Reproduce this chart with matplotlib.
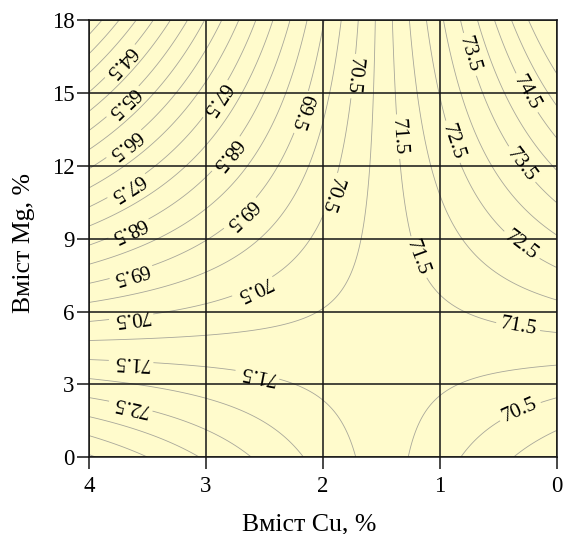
import numpy as np
import matplotlib
matplotlib.use("Agg")
import matplotlib.pyplot as plt

# Response surface: Z = b0 + b1*Cu + b2*Mg + b12*Cu*Mg + b11*Cu^2 + b22*Mg^2
coef_names = ["b0", "b1", "b2", "b12", "b11", "b22"]
coef_values = [69.5915, 1.1039, 0.3708, -0.2525, 0.0037, 0.0002]

cu_ticks = [4, 3, 2, 1, 0]
mg_ticks = [0, 3, 6, 9, 12, 15, 18]
plain_levels = np.arange(62.0, 76.0, 1.0)
label_levels = np.arange(62.5, 76.0, 1.0)

xlabel = "Вміст Cu, %"
ylabel = "Вміст Mg, %"

# label placement (layout)
label_positions = [
    (3.73, 16.3), (3.70, 14.6), (3.70, 12.9), (3.67, 11.1), (3.67, 9.5),
    (3.64, 7.6), (3.64, 5.8), (3.64, 3.9), (3.64, 2.15),
    (0.26, 15.0), (0.30, 12.06), (0.29, 8.8), (0.33, 5.4), (0.31, 1.86),
    (2.91, 14.74), (2.82, 12.47), (2.17, 14.2), (2.71, 10.07), (2.6, 7.0),
    (1.74, 15.7), (1.91, 10.8), (1.37, 13.2), (0.91, 12.96), (0.74, 16.6),
    (1.17, 8.26), (2.56, 3.39),
]

plt.rcParams["font.family"] = ["Liberation Serif", "DejaVu Serif"]

b0, b1, b2, b12, b11, b22 = coef_values


def model(cu, mg):
    return b0 + b1 * cu + b2 * mg + b12 * cu * mg + b11 * cu ** 2 + b22 * mg ** 2


def grad(cu, mg):
    return b1 + b12 * mg + 2 * b11 * cu, b2 + b12 * cu + 2 * b22 * mg


fig = plt.figure(figsize=(5.63, 5.34), dpi=100)
ax = fig.add_axes([0.158, 0.144, 0.831, 0.818])
ax.set_facecolor("#FFFBCC")

X, Y = np.meshgrid(np.linspace(0, 4, 300), np.linspace(0, 18, 300))
Z = model(X, Y)
line_style = dict(colors="#a8a79a", linewidths=0.6)
ax.contour(X, Y, Z, levels=plain_levels, **line_style)
cs = ax.contour(X, Y, Z, levels=label_levels, **line_style)

ax.set_xlim(4, 0)
ax.set_ylim(0, 18)

texts = ax.clabel(cs, fmt="%.1f", fontsize=15, colors="black",
                  manual=label_positions, inline=True, inline_spacing=4)

# orient each label so that its top faces increasing values (as in the original)
p0 = ax.transData.transform((0, 0))
p1 = ax.transData.transform((1, 1))
sx, sy = p1[0] - p0[0], p1[1] - p0[1]
for t in texts:
    cx, cy = t.get_position()
    gx, gy = grad(cx, cy)
    ang = np.degrees(np.arctan2(gy / sy, gx / sx)) - 90.0
    t.set_rotation(ang)
    t.set_rotation_mode("anchor")

ax.set_xticks(cu_ticks)
ax.set_yticks(mg_ticks)
ax.set_axisbelow(False)
ax.grid(True, color="#151515", linewidth=1.1)
for s in ax.spines.values():
    s.set_color("#151515")
    s.set_linewidth(1.1)
ax.tick_params(direction="out", length=8.5, width=1.1, labelsize=16.5,
               color="#151515", pad=2)
ax.tick_params(axis="x", pad=5)

ax.set_xlabel(xlabel, fontsize=18.5)
ax.xaxis.label.set_verticalalignment("baseline")
ax.xaxis.set_label_coords(0.471, -0.167)
ax.set_ylabel(ylabel, fontsize=18.5)
ax.yaxis.label.set_verticalalignment("center")
ax.yaxis.set_label_coords(-0.139, 0.49)

fig.savefig("out.png", dpi=100)
